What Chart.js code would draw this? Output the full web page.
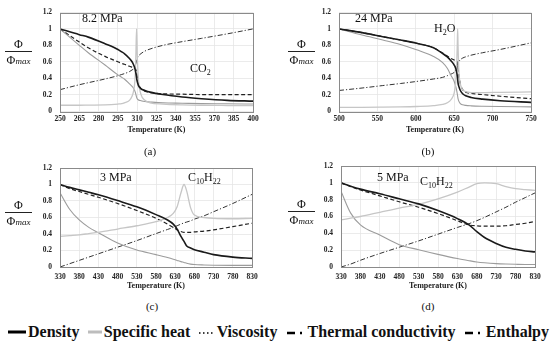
<!DOCTYPE html>
<html><head><meta charset="utf-8">
<script src="https://cdn.jsdelivr.net/npm/chart.js@4.4.0/dist/chart.umd.min.js"></script>
<style>
body{margin:0;background:#fff;width:550px;height:344px;overflow:hidden;position:relative;font-family:"Liberation Serif","DejaVu Serif",serif;color:#111;}
.pane{position:absolute;width:275px;height:150px;}
.pane canvas{display:block}
.t{position:absolute;font-size:12px;line-height:12px;white-space:nowrap;}
.t sub{font-size:8px;vertical-align:-3px;line-height:0}
.frac{position:absolute;width:27px;text-align:center;font-size:12px;}
.frac .num{height:14px;line-height:14px}
.frac .den{border-top:1px solid #222;height:16px;line-height:17px}
.frac i{font-size:9px}
.lab{position:absolute;font-size:11px;line-height:11px;transform:translateX(-50%)}
#legend{position:absolute;left:8px;top:322px;width:541px;height:20px;display:flex;justify-content:space-between;align-items:center;font-family:"Liberation Serif","DejaVu Serif",serif;font-weight:bold;font-size:16px;}
#legend span{display:flex;align-items:center;white-space:nowrap}
#legend svg{margin-right:2px}
</style></head><body>

<div class="pane" style="left:0;top:0"><canvas id="ca" width="275" height="150"></canvas></div>
<div class="pane" style="left:275px;top:0"><canvas id="cb" width="275" height="150"></canvas></div>
<div class="pane" style="left:0;top:150px"><canvas id="cc" width="275" height="150"></canvas></div>
<div class="pane" style="left:275px;top:150px"><canvas id="cd" width="275" height="150"></canvas></div>

<div class="frac" style="left:5px;top:37px"><div class="num">Φ</div><div class="den">Φ<i>max</i></div></div>
<div class="frac" style="left:288px;top:37px"><div class="num">Φ</div><div class="den">Φ<i>max</i></div></div>
<div class="frac" style="left:5px;top:198px"><div class="num">Φ</div><div class="den">Φ<i>max</i></div></div>
<div class="frac" style="left:288px;top:197px"><div class="num">Φ</div><div class="den">Φ<i>max</i></div></div>

<div class="t" style="left:82px;top:12px">8.2 MPa</div>
<div class="t" style="left:190px;top:62px">CO<sub>2</sub></div>
<div class="t" style="left:355px;top:12px">24 MPa</div>
<div class="t" style="left:434px;top:22px">H<sub>2</sub>O</div>
<div class="t" style="left:100px;top:171px">3 MPa</div>
<div class="t" style="left:188px;top:171px">C<sub>10</sub>H<sub>22</sub></div>
<div class="t" style="left:377px;top:171px">5 MPa</div>
<div class="t" style="left:420px;top:175px">C<sub>10</sub>H<sub>22</sub></div>

<div class="lab" style="left:150px;top:146px">(a)</div>
<div class="lab" style="left:428px;top:146px">(b)</div>
<div class="lab" style="left:152px;top:301px">(c)</div>
<div class="lab" style="left:428px;top:301px">(d)</div>

<div id="legend">
 <span><svg width="18" height="10"><line x1="0" y1="5" x2="18" y2="5" stroke="#000" stroke-width="3"/></svg>Density</span>
 <span><svg width="14" height="10"><line x1="0" y1="5" x2="14" y2="5" stroke="#bdbdbd" stroke-width="3"/></svg>Specific heat</span>
 <span><svg width="16" height="10"><line x1="0" y1="6" x2="16" y2="6" stroke="#000" stroke-width="1.5" stroke-dasharray="1.5,2.5"/></svg>Viscosity</span>
 <span><svg width="20" height="10"><line x1="1" y1="6" x2="20" y2="6" stroke="#000" stroke-width="2.5" stroke-dasharray="8,5,2,10"/></svg>Thermal conductivity</span>
 <span><svg width="20" height="10"><line x1="1" y1="6" x2="20" y2="6" stroke="#000" stroke-width="2.5" stroke-dasharray="8,5,2,10"/></svg>Enthalpy</span>
</div>

<script>
// ---------- data ----------
const seriesNames = ["Density", "Specific heat", "Viscosity", "Thermal conductivity", "Enthalpy"];
const yTicks = [0, 0.2, 0.4, 0.6, 0.8, 1, 1.2];

// (a) CO2, 8.2 MPa
const ticksA = [250,265,280,295,310,325,340,355,370,385,400];
const tempA = [250,265,272,285,295,298,300,304,306,307,308,308.5,309,309.5,310,311,313,316,320,330,345,360,380,400];
const densityA = [1,0.93,0.9,0.82,0.75,0.72,0.7,0.64,0.6,0.57,0.53,0.5,0.46,0.41,0.36,0.31,0.27,0.25,0.23,0.2,0.17,0.15,0.13,0.12];
const specHeatA = [0.07,0.07,0.072,0.075,0.085,0.09,0.1,0.13,0.18,0.23,0.33,0.45,0.7,1.0,0.7,0.38,0.2,0.13,0.1,0.085,0.075,0.07,0.067,0.065];
const viscosityA = [1,0.8,0.71,0.56,0.44,0.41,0.39,0.33,0.3,0.28,0.25,0.23,0.2,0.17,0.15,0.135,0.125,0.115,0.11,0.1,0.095,0.09,0.088,0.085];
const conductivityA = [1,0.84,0.77,0.665,0.6,0.58,0.57,0.545,0.535,0.53,0.525,0.52,0.5,0.46,0.4,0.33,0.27,0.24,0.225,0.21,0.205,0.2,0.2,0.2];
const enthalpyA = [0.26,0.32,0.345,0.39,0.43,0.445,0.455,0.48,0.5,0.51,0.53,0.55,0.58,0.61,0.64,0.67,0.7,0.73,0.755,0.8,0.845,0.885,0.94,1.0];

// (b) H2O, 24 MPa
const ticksB = [500,550,600,650,700,750];
const tempB = [500,530,557,580,601,623,635,641,646,650,652,653,654,654.5,655,656,658,661,665,672,687,710,750];
const densityB = [1,0.955,0.905,0.865,0.825,0.77,0.7,0.66,0.61,0.56,0.52,0.48,0.43,0.39,0.34,0.3,0.25,0.21,0.185,0.165,0.145,0.125,0.105];
const specHeatB = [0.045,0.045,0.047,0.05,0.055,0.065,0.08,0.1,0.14,0.22,0.35,0.5,0.8,1.0,0.8,0.5,0.33,0.26,0.235,0.225,0.225,0.228,0.232];
const viscosityB = [1,0.925,0.865,0.81,0.745,0.665,0.59,0.52,0.43,0.36,0.3,0.26,0.21,0.18,0.15,0.12,0.09,0.075,0.068,0.063,0.058,0.054,0.05];
const conductivityB = [1,0.955,0.905,0.865,0.825,0.77,0.705,0.67,0.64,0.62,0.61,0.605,0.6,0.58,0.52,0.44,0.33,0.26,0.23,0.215,0.2,0.18,0.15];
const enthalpyB = [0.25,0.28,0.31,0.335,0.36,0.39,0.41,0.43,0.45,0.47,0.49,0.51,0.53,0.55,0.57,0.6,0.625,0.645,0.66,0.68,0.71,0.75,0.83];

// (c) C10H22, 3 MPa
const ticksC = [330,380,430,480,530,580,630,680,730,780,830];
const tempC = [330,355,380,405,430,480,530,580,610,625,635,645,653,660,670,680,705,730,780,830];
const densityC = [1,0.965,0.935,0.905,0.875,0.805,0.73,0.635,0.57,0.52,0.46,0.37,0.31,0.255,0.23,0.21,0.18,0.15,0.12,0.105];
const specHeatC = [0.37,0.38,0.39,0.405,0.42,0.46,0.5,0.55,0.6,0.65,0.73,0.9,1.0,0.92,0.72,0.63,0.6,0.59,0.585,0.59];
const viscosityC = [0.9,0.7,0.57,0.48,0.415,0.29,0.205,0.15,0.115,0.095,0.08,0.065,0.055,0.045,0.035,0.03,0.025,0.022,0.02,0.02];
const conductivityC = [1,0.95,0.915,0.88,0.845,0.77,0.685,0.59,0.52,0.48,0.45,0.43,0.42,0.42,0.42,0.425,0.435,0.45,0.49,0.53];
const enthalpyC = [0,0.04,0.08,0.12,0.16,0.24,0.32,0.405,0.455,0.48,0.5,0.52,0.535,0.545,0.56,0.58,0.62,0.67,0.77,0.88];

// (d) C10H22, 5 MPa
const ticksD = [330,380,430,480,530,580,630,680,730,780,830];
const tempD = [330,355,380,430,480,530,580,630,660,680,700,730,755,780,805,830];
const densityD = [1,0.96,0.925,0.87,0.81,0.75,0.67,0.575,0.5,0.42,0.35,0.28,0.235,0.21,0.19,0.18];
const specHeatD = [0.56,0.58,0.6,0.65,0.7,0.745,0.81,0.89,0.95,0.99,1.0,0.99,0.955,0.93,0.92,0.91];
const viscosityD = [0.9,0.64,0.5,0.38,0.265,0.205,0.15,0.1,0.075,0.06,0.05,0.04,0.035,0.032,0.03,0.03];
const conductivityD = [1,0.955,0.915,0.845,0.775,0.71,0.635,0.55,0.5,0.49,0.485,0.485,0.49,0.505,0.52,0.54];
const enthalpyD = [0,0.035,0.08,0.16,0.235,0.31,0.39,0.47,0.515,0.55,0.59,0.655,0.71,0.77,0.825,0.88];

// ---------- drawing ----------
const styles = [
  {borderColor:'#1a1a1a', borderWidth:1.6, borderDash:[]},
  {borderColor:'#c6c6c6', borderWidth:1.3, borderDash:[]},
  {borderColor:'#9c9c9c', borderWidth:1.1, borderDash:[]},
  {borderColor:'#222', borderWidth:1.2, borderDash:[4,2.5]},
  {borderColor:'#333', borderWidth:1.0, borderDash:[5,2,1.2,2]}
];

const boxPlugin = {
  id:'box',
  afterDraw(chart){
    const {ctx, chartArea:a} = chart;
    ctx.save();
    ctx.strokeStyle = '#8a8a8a';
    ctx.lineWidth = 1;
    ctx.strokeRect(Math.round(a.left)+0.5, Math.round(a.top)+0.5, Math.round(a.right-a.left), Math.round(a.bottom-a.top));
    ctx.restore();
  }
};

const serifFam = '"Liberation Serif", "DejaVu Serif", serif';
const tickFont = {family:serifFam, size:7.5, weight:'bold'};

function makeChart(id, temps, series, xTicks, lay){
  const datasets = series.map((vals, i) => Object.assign({
    label: seriesNames[i],
    data: temps.map((t, k) => ({x:t, y:vals[k]})),
    pointRadius:0,
    fill:false,
    cubicInterpolationMode:'monotone'
  }, styles[i]));
  return new Chart(document.getElementById(id), {
    type:'line',
    data:{datasets},
    plugins:[boxPlugin],
    options:{
      responsive:false, animation:false, devicePixelRatio:1,
      layout:{padding:{left:0, right:lay.right, top:lay.top, bottom:lay.bottom}},
      plugins:{legend:{display:false}, tooltip:{enabled:false}},
      scales:{
        x:{type:'linear', min:xTicks[0], max:xTicks[xTicks.length-1],
           afterBuildTicks:s=>{ s.ticks = xTicks.map(v=>({value:v})); },
           afterFit:s=>{ s.height = lay.xh; },
           grid:{color:'#e6e6e6', lineWidth:0.8, drawTicks:false},
           border:{display:false},
           ticks:{font:tickFont, color:'#222', padding:lay.xpad, maxRotation:0, autoSkip:false},
           title:{display:true, text:'Temperature (K)', font:{family:serifFam, size:8, weight:'bold'}, color:'#222', padding:0}
        },
        y:{type:'linear', min:0, max:1.2,
           afterBuildTicks:s=>{ s.ticks = yTicks.map(v=>({value:v})); },
           afterFit:s=>{ s.width = lay.left; },
           grid:{color:'#e6e6e6', lineWidth:0.8, drawTicks:false},
           border:{display:false},
           ticks:{font:tickFont, color:'#222', padding:8, callback:v=>String(Math.round(v*10)/10)}
        }
      }
    }
  });
}

const charts = [
  makeChart('ca', tempA, [densityA, specHeatA, viscosityA, conductivityA, enthalpyA], ticksA,
    {left:60, right:22, top:10, bottom:15, xh:24, xpad:3.5}),
  makeChart('cb', tempB, [densityB, specHeatB, viscosityB, conductivityB, enthalpyB], ticksB,
    {left:64, right:19, top:10, bottom:15, xh:24, xpad:3.5}),
  makeChart('cc', tempC, [densityC, specHeatC, viscosityC, conductivityC, enthalpyC], ticksC,
    {left:60, right:23, top:18, bottom:9, xh:24, xpad:6}),
  makeChart('cd', tempD, [densityD, specHeatD, viscosityD, conductivityD, enthalpyD], ticksD,
    {left:66, right:15, top:16, bottom:9, xh:24, xpad:6})
];
if (document.fonts && document.fonts.load) {
  Promise.all([
    document.fonts.load('bold 8px "Liberation Serif"'),
    document.fonts.load('8px "Liberation Serif"')
  ]).then(() => charts.forEach(c => c.update('none'))).catch(()=>{});
}
</script>
</body></html>
